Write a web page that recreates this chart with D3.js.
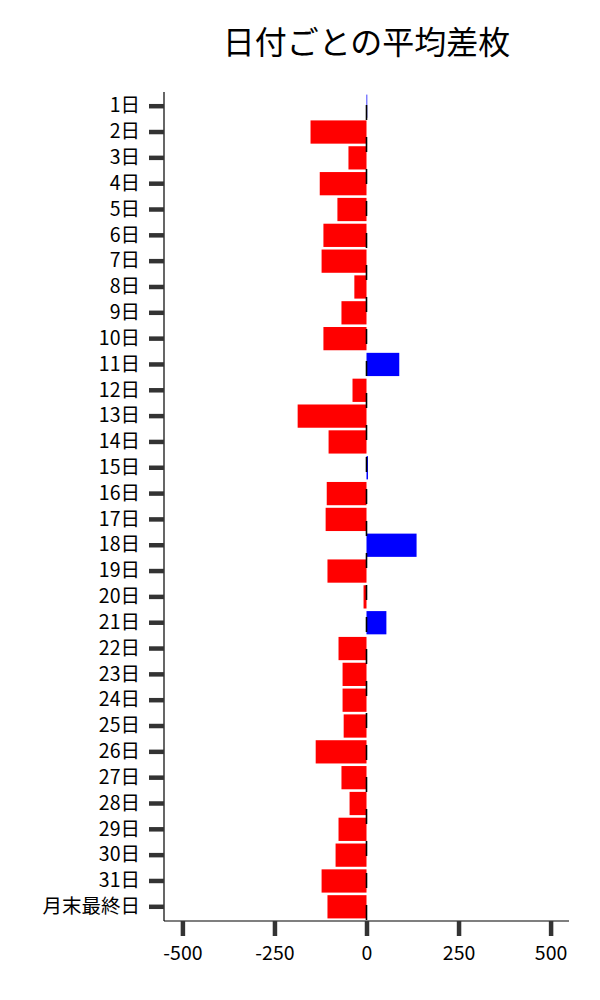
<!DOCTYPE html>
<html><head><meta charset="utf-8">
<script src="https://cdn.jsdelivr.net/npm/d3@7"></script>
<style>body{margin:0;background:#fff;} text{font-family:"Noto Sans CJK JP","Noto Sans",sans-serif;}</style>
</head><body>
<svg id="c" width="600" height="1000"></svg>
<script>
const categories = ["1日","2日","3日","4日","5日","6日","7日","8日","9日","10日","11日","12日","13日","14日","15日","16日","17日","18日","19日","20日","21日","22日","23日","24日","25日","26日","27日","28日","29日","30日","31日","月末最終日"];
const values = [2,-152,-49,-127,-79,-117,-122,-33,-68,-117,89,-38,-187,-103,4,-108,-111,136,-106,-8,54,-76,-65,-65,-62,-138,-68,-46,-76,-84,-122,-106];
const xTicks = [-500,-250,0,250,500];
const xTickLabels = ["-500","-250","0","250","500"];
const title = "日付ごとの平均差枚";

(function(){
const svg = d3.select("#c");
const mL = 164, mR = 569, mT = 92, mB = 921;
const x = d3.scaleLinear().domain([-550, 550]).range([mL, mR]);
const y = d3.scaleBand().domain(categories).range([mT, mB]).paddingInner(0.1).paddingOuter(0.1);

svg.append("text").attr("x", (mL+mR)/2).attr("y", 54).attr("text-anchor","middle")
  .attr("font-size", 32).attr("fill","#000").text(title);

svg.append("g").selectAll("rect").data(values).join("rect")
  .attr("x", d => x(Math.min(0,d)))
  .attr("width", d => Math.abs(x(d)-x(0)))
  .attr("y", (d,i) => y(categories[i]))
  .attr("height", y.bandwidth())
  .attr("fill", d => d >= 0 ? "#0000ff" : "#ff0000");

svg.append("line").attr("x1", x(0)).attr("x2", x(0))
  .attr("y1", 105).attr("y2", mB)
  .attr("stroke","#000").attr("stroke-width",1.6).attr("stroke-dasharray","15,17");

const yAxis = svg.append("g").attr("transform",`translate(${mL},0)`)
  .call(d3.axisLeft(y).tickSize(15).tickPadding(9));
yAxis.select(".domain").attr("stroke","#000").attr("stroke-width",1.2).attr("d",`M0,${mT}V${mB}`);
yAxis.selectAll(".tick line").attr("stroke","#333").attr("stroke-width",4.5);
yAxis.selectAll(".tick text").attr("font-size",19.5).attr("fill","#000")
  .attr("font-family",'"Noto Sans CJK JP","Noto Sans",sans-serif');

const xAxis = svg.append("g").attr("transform",`translate(0,${mB})`)
  .call(d3.axisBottom(x).tickValues(xTicks).tickSize(15).tickPadding(10)
    .tickFormat((d,i) => xTickLabels[i]));
xAxis.select(".domain").attr("stroke","#000").attr("stroke-width",1.2).attr("d",`M${mL},0H${mR}`);
xAxis.selectAll(".tick line").attr("stroke","#333").attr("stroke-width",4.5);
xAxis.selectAll(".tick text").attr("font-size",19.5).attr("fill","#000")
  .attr("font-family",'"Noto Sans CJK JP","Noto Sans",sans-serif');
})();
</script>
</body></html>
